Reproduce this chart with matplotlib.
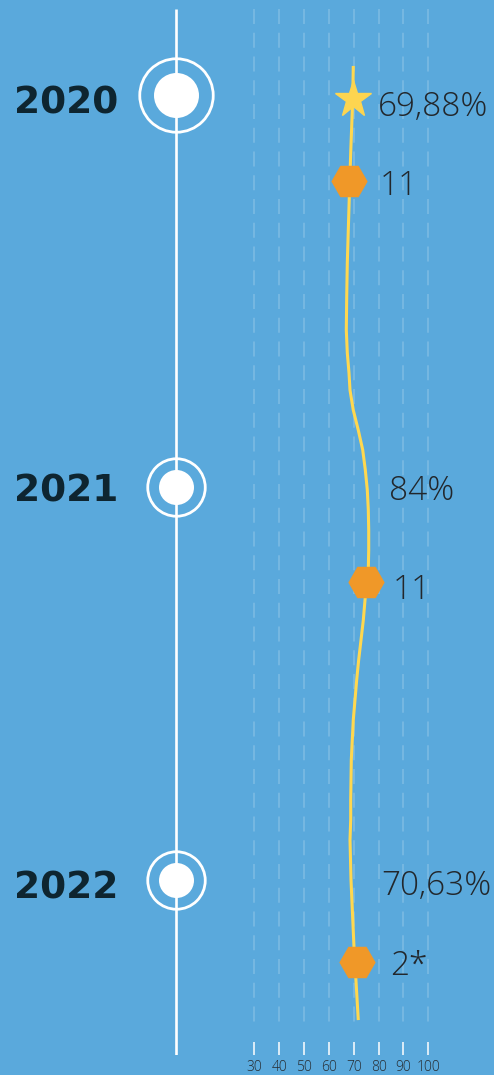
import matplotlib
matplotlib.use("Agg")
import matplotlib.pyplot as plt

# data
years = [2020, 2021, 2022]
year_labels = ["2020", "2021", "2022"]
year_label_y = [2020.048, 2021.036, 2022.048]   # baselines
big_ring = [True, False, False]

# yellow curve (value on the 30-100 scale, position in years)
line_val = [69.82, 69.58, 68.82, 68.21, 67.81, 67.41, 67.17, 67.01, 67.41,
            68.09, 68.50, 69.82, 71.83, 73.60, 74.65, 75.45, 75.86, 76.02,
            76.02, 75.86, 74.53, 73.85, 72.92, 71.99, 71.19, 70.51, 69.82,
            69.42, 69.02, 68.90, 68.78, 68.78, 68.50, 68.90, 70.10, 71.83]
line_pos = [2019.926, 2020.013, 2020.140, 2020.260, 2020.344, 2020.428,
            2020.515, 2020.599, 2020.657, 2020.708, 2020.752, 2020.803,
            2020.854, 2020.904, 2020.955, 2021.006, 2021.057, 2021.108,
            2021.159, 2021.210, 2021.287, 2021.338, 2021.389, 2021.439,
            2021.490, 2021.541, 2021.592, 2021.643, 2021.694, 2021.745,
            2021.796, 2021.847, 2021.898, 2022.000, 2022.171, 2022.357]

star_val = [69.7]
star_pos = [2020.01]

hex_val = [68.0, 75.0, 71.2]
hex_pos = [2020.22, 2021.24, 2022.21]

pct_labels = ["69,88%", "84%", "70,63%"]
pct_x = [79.7, 84.1, 81.0]
pct_y = [2020.054, 2021.032, 2022.038]   # baselines

count_labels = ["11", "11", "2*"]
count_x = [80.5, 85.8, 84.6]
count_y = [2020.255, 2021.284, 2022.242]  # baselines

ticks = [30, 40, 50, 60, 70, 80, 90, 100]

BG = "#5AA9DC"
DARK = "#0E2530"
TXT = "#22272C"
YELLOW = "#FFD84F"
ORANGE = "#F09828"
NUMFONT = ["Open Sans", "DejaVu Sans"]

plt.rcParams['lines.scale_dashes'] = False

fig = plt.figure(figsize=(4.94, 10.75), dpi=100, facecolor=BG)
ax = fig.add_axes([0, 20 / 1075, 1, 1055 / 1075])
ax.set_facecolor(BG)

ax.set_xlim(-72.29, 126.42)
ax.set_ylim(2022.446, 2019.758)

for s in ax.spines.values():
    s.set_visible(False)
ax.set_yticks([])
ax.set_xticks(ticks)
ax.set_xticklabels([str(t) for t in ticks], fontsize=10, color="#262B30",
                   family=NUMFONT, fontweight=300)
ax.tick_params(axis="x", direction="in", length=9.4, width=1.1,
               color="white", pad=3.5)

# dashed grid
ax.vlines(ticks, 2019.781, 2022.378, colors="white", alpha=0.22,
          linewidth=1.1, linestyles=[(0, (10.8, 6.3))], zorder=1)

# timeline
yt = ax.get_yaxis_transform()
ax.plot([0.357, 0.357], [2019.781, 2022.446], color="white", lw=1.9,
        transform=yt, zorder=2, solid_capstyle="butt")
for y, ly, lab, big in zip(years, year_label_y, year_labels, big_ring):
    ring = 52.9 if big else 41.4
    dot = 32.4 if big else 25.2
    ax.plot([0.357], [y], marker="o", ms=ring, mfc="none", mec="white",
            mew=2.0, transform=yt, zorder=3)
    ax.plot([0.357], [y], marker="o", ms=dot, mfc="white", mec="none",
            transform=yt, zorder=3)
    ax.text(0.028, ly, lab, transform=yt, fontsize=27, fontweight="bold",
            color=DARK, va="baseline", ha="left", family="DejaVu Sans")

# yellow curve and markers
ax.plot(line_val, line_pos, color=YELLOW, lw=2.2, zorder=4,
        solid_capstyle="butt", solid_joinstyle="round")
ax.plot(star_val, star_pos, marker="*", ms=28, color="#FDD550",
        linestyle="none", zorder=5)
ax.plot(hex_val, hex_pos, marker="H", ms=25, color=ORANGE,
        linestyle="none", zorder=5)

for x, y, t in zip(pct_x, pct_y, pct_labels):
    ax.text(x, y, t, fontsize=24, color=TXT, va="baseline", ha="left",
            family=NUMFONT, fontweight=300)
for x, y, t in zip(count_x, count_y, count_labels):
    ax.text(x, y, t, fontsize=24, color=TXT, va="baseline", ha="left",
            family=NUMFONT, fontweight=300)

fig.savefig("out.png", dpi=100, facecolor=BG)
